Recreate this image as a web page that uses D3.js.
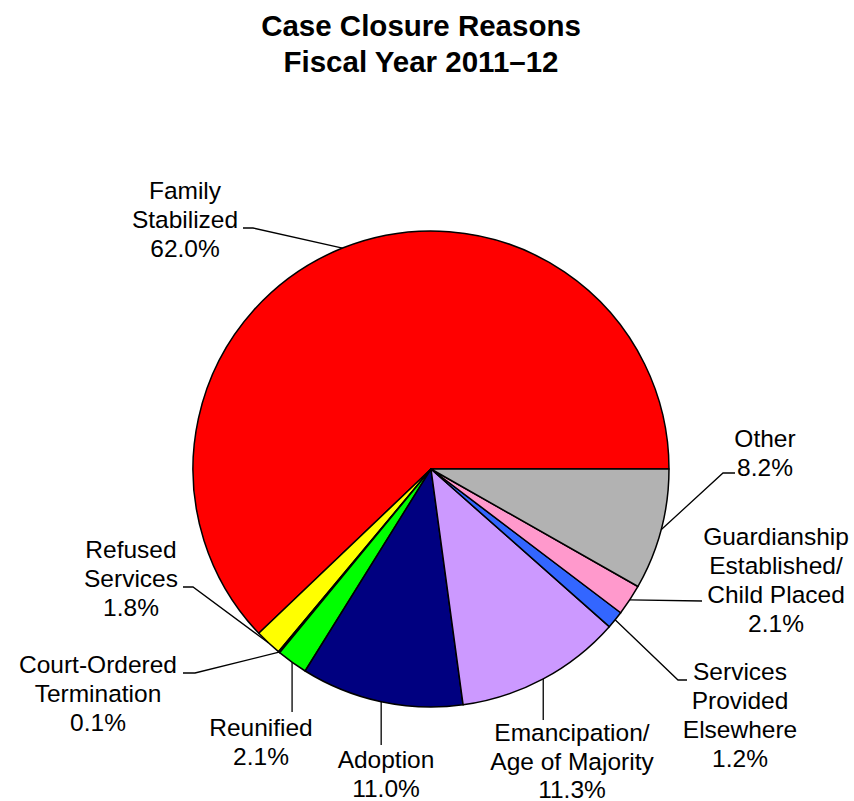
<!DOCTYPE html>
<html>
<head>
<meta charset="utf-8">
<script src="https://cdn.jsdelivr.net/npm/d3@7"></script>
<style>
  html, body { margin: 0; padding: 0; background: #fff; }
  svg { display: block; }
  text { font-family: "Liberation Sans", Arial, sans-serif; fill: #000; }
</style>
</head>
<body>
<svg id="chart" width="854" height="801"></svg>
<script>
// ---- Data ----
const categories = [
  "Family Stabilized",
  "Refused Services",
  "Court-Ordered Termination",
  "Reunified",
  "Adoption",
  "Emancipation/Age of Majority",
  "Services Provided Elsewhere",
  "Guardianship Established/Child Placed",
  "Other"
];
const values = [62.0, 1.8, 0.1, 2.1, 11.0, 11.3, 1.2, 2.1, 8.2];
const labelLines = [
  ["Family", "Stabilized"],
  ["Refused", "Services"],
  ["Court-Ordered", "Termination"],
  ["Reunified"],
  ["Adoption"],
  ["Emancipation/", "Age of Majority"],
  ["Services", "Provided", "Elsewhere"],
  ["Guardianship", "Established/", "Child Placed"],
  ["Other"]
];
const colors = ["#FF0000", "#FFFF00", "#969696", "#00FF00", "#000080",
                "#CC99FF", "#3366FF", "#FF99CC", "#B2B2B2"];
const titleLines = ["Case Closure Reasons", "Fiscal Year 2011\u201312"];

// ---- Layout (label placement) ----
const cx = 431, cy = 469, R = 238;
const lineH = 29;
// tx: text center, ty: first baseline, elbow: bend point (null = none), end: leader end
const labelLayout = [
  { tx: 185, ty: 199, elbow: [253, 228], end: [243, 228] },
  { tx: 131, ty: 558, elbow: [193, 587], end: [183, 587] },
  { tx: 98,  ty: 673, elbow: [195, 673], end: [183, 673] },
  { tx: 261, ty: 736, elbow: null, endY: 712 },
  { tx: 386, ty: 768, elbow: null, endY: 745 },
  { tx: 572, ty: 741, elbow: null, endY: 720, lh: 28.5 },
  { tx: 740, ty: 680, elbow: [678, 680], end: [687, 680] },
  { tx: 776, ty: 545, elbow: null, end: [702, 601] },
  { tx: 765, ty: 447, elbow: [723, 473], end: [735, 473] }
];

const svg = d3.select("#chart");

// Title
svg.append("g").selectAll("text")
  .data(titleLines)
  .join("text")
  .attr("x", 421)
  .attr("y", (d, i) => 36 + i * 36)
  .attr("text-anchor", "middle")
  .style("font-size", "29.5px")
  .style("font-weight", "bold")
  .text(d => d);

const pie = d3.pie()
  .sort(null)
  .value(d => d)
  .startAngle(Math.PI / 2)
  .endAngle(Math.PI / 2 - 2 * Math.PI);

const arcs = pie(values);
const arc = d3.arc().innerRadius(0).outerRadius(R);
const edgeArc = d3.arc().innerRadius(R).outerRadius(R);

const g = svg.append("g").attr("transform", `translate(${cx},${cy})`);

g.selectAll("path.slice")
  .data(arcs)
  .join("path")
  .attr("class", "slice")
  .attr("d", arc)
  .attr("fill", (d, i) => colors[i])
  .attr("stroke", "#000")
  .attr("stroke-width", 1.5)
  .attr("stroke-linejoin", "round");

// Leader lines and labels
const fmt = d3.format(".1f");
const leaders = svg.append("g");
arcs.forEach((d, i) => {
  const L = labelLayout[i];
  const c = edgeArc.centroid(d);
  const a = [cx + c[0], cy + c[1]];
  let pts;
  if (L.endY !== undefined) {
    pts = [a, [a[0], L.endY]];
  } else if (L.elbow) {
    pts = [a, L.elbow, L.end];
  } else {
    pts = [a, L.end];
  }
  leaders.append("path")
    .attr("d", d3.line()(pts))
    .attr("fill", "none")
    .attr("stroke", "#000")
    .attr("stroke-width", 1.3);

  const lines = labelLines[i].concat([fmt(values[i]) + "%"]);
  const lh = L.lh || lineH;
  const t = svg.append("text")
    .attr("text-anchor", "middle")
    .style("font-size", "24.5px");
  lines.forEach((s, k) => {
    t.append("tspan")
      .attr("x", L.tx)
      .attr("y", L.ty + k * lh)
      .text(s);
  });
});
</script>
</body>
</html>
